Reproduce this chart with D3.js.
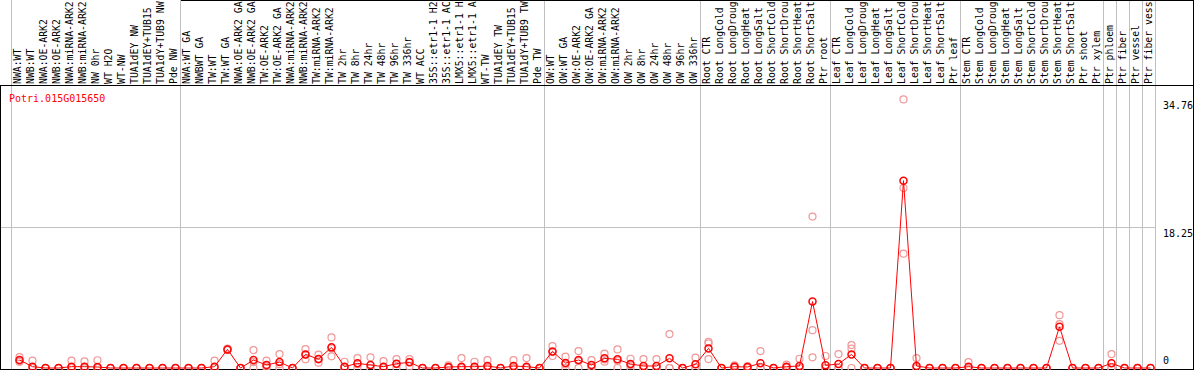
<!DOCTYPE html>
<html>
<head>
<meta charset="utf-8">
<script src="https://cdn.jsdelivr.net/npm/d3@7/dist/d3.min.js"></script>
<style>
html, body { margin: 0; padding: 0; background: #fff; }
svg { display: block; }
text { font-family: "DejaVu Sans Mono", monospace; font-size: 10px; }
</style>
</head>
<body>
<svg id="chart" width="1194" height="370"></svg>
<script>
const geneId = "Potri.015G015650";

// sample labels as far as they show in the header strip
const samples = [
  "NWA:WT","NWB:WT","NWA:OE-ARK2","NWB:OE-ARK2","NWA:miRNA-ARK2","NWB:miRNA-ARK2","NW 0hr","WT H2O","WT-NW",
  "TUA1dEY NW","TUA1dEY+TUB15","TUA1dY+TUB9 NW","Pde NW",
  "NWA:WT GA","NWBWT GA","TW:WT","TW:WT GA","NWA:OE-ARK2 GA","NWB:OE-ARK2 GA","TW:OE-ARK2","TW:OE-ARK2 GA",
  "NWA:miRNA-ARK2","NWB:miRNA-ARK2","TW:miRNA-ARK2","TW:miRNA-ARK2","TW 2hr","TW 8hr","TW 24hr","TW 48hr",
  "TW 96hr","TW 336hr","WT ACC","35S::etr1-1 H2","35S::etr1-1 AC","LMX5::etr1-1 H","LMX5::etr1-1 A","WT-TW",
  "TUA1dEY TW","TUA1dEY+TUB15","TUA1dY+TUB9 TW","Pde TW",
  "OW:WT","OW:WT GA","OW:OE-ARK2","OW:OE-ARK2 GA","OW:miRNA-ARK2","OW:miRNA-ARK2","OW 2hr","OW 8hr","OW 24hr",
  "OW 48hr","OW 96hr","OW 336hr",
  "Root CTR","Root LongCold","Root LongDroug","Root LongHeat","Root LongSalt","Root ShortCold","Root ShortDrou",
  "Root ShortHeat","Root ShortSalt","Ptr root",
  "Leaf CTR","Leaf LongCold","Leaf LongDroug","Leaf LongHeat","Leaf LongSalt","Leaf ShortCold","Leaf ShortDrou",
  "Leaf ShortHeat","Leaf ShortSalt","Ptr leaf",
  "Stem CTR","Stem LongCold","Stem LongDroug","Stem LongHeat","Stem LongSalt","Stem ShortCold","Stem ShortDrou",
  "Stem ShortHeat","Stem ShortSalt","Ptr shoot",
  "Ptr xylem","Ptr phloem","Ptr fiber","Ptr vessel","Ptr fiber vess"
];

// index of the last sample in each group (a grey separator follows it)
const groupEnds = [12, 40, 52, 62, 72, 83, 84, 85, 86, 87];

// mean expression per sample
const means = [
  1.03,0.17,0,0,0.17,0.17,0.13,0,0,0,0,0,0,
  0,0,0.17,2.41,0,1.03,0.39,0.77,0,1.76,1.16,2.67,0.17,0.6,0.39,0.17,0.56,0.73,0,0,0.13,0.17,0.17,0.26,0,0.26,0.17,0,
  2.15,0.64,1.03,0.39,1.25,1.12,0.52,0.26,0.26,1.25,0,0.47,
  2.54,0,0.17,0.13,0.6,0,0.17,0.26,8.6,0.34,
  0.52,1.76,0,0,0,24.25,0.26,0,0,0,
  0.17,0,0,0,0,0,0,5.33,0,0,0,
  0.6,0,0,0
];

// replicate values per sample
const rep1 = [
  1.4,0.95,0,0,0.95,0.85,1.0,0,0,0,0,0,0,
  0,0,0.95,2.5,0,2.32,0.95,1.8,0,2.45,1.72,3.96,0.81,1.29,1.38,0.9,1.16,1.16,0,0,0.34,1.29,0.81,1.03,0,1.03,1.29,0,
  2.84,1.46,2.19,1.03,1.85,2.41,1.2,1.16,1.16,4.39,0,1.33,
  3.4,0,0.34,0.26,2.19,0,0.43,1.2,19.6,1.55,
  1.8,2.97,0,0,0,34.76,1.29,0,0,0,
  0.77,0,0,0,0,0,0,6.84,0,0,0,
  1.8,0,0,0
];
const rep2 = [
  0.9,0,0,0,0,0,0,0,0,0,0,0,0,
  0,0,0,2.4,0,0.77,0.2,0.5,0,1.72,1.1,2.54,0,0.5,0,0,0.5,0.8,0,0,0.05,0,0,0,0,0,0,0,
  2.06,0.46,0.9,0.15,1.1,0.95,0.36,0,0,0,0,0.08,
  3.18,0,0.17,0.13,0,0,0.08,0,4.9,0,
  0,2.5,0,0,0,23.3,0,0,0,0,
  0,0,0,0,0,0,0,5.68,0,0,0,
  0,0,0,0
];
const rep3 = [
  0.8,0,0,0,0,0,0,0,0,0,0,0,0,
  0,0,0,2.3,0,0,0,0,0,1.12,0.69,1.51,0,0,0,0,0,0.2,0,0,0,0,0,0,0,0,0,0,
  1.55,0,0,0,0.82,0,0,0,0,0,0,0,
  1.16,0,0,0,0,0,0,0,1.38,0,
  0,0,0,0,0,14.8,0,0,0,0,
  0,0,0,0,0,0,0,3.52,0,0,0,
  0,0,0,0
];

const yTicks = [0, 18.25, 34.76];
const yMax = 36.5;

const W = 1194, H = 370;
const headerH = 85;
const svg = d3.select("#chart");

const x = d3.scaleBand()
  .domain(d3.range(samples.length))
  .range([13, 13 + samples.length * 13]);
const cx = i => x(i) + x.bandwidth() / 2;
const plotRight = x(samples.length - 1) + 11;

const y = d3.scaleLinear().domain([0, yMax]).range([368, 86]);

// clip for header labels
svg.append("defs").append("clipPath").attr("id", "hdrclip")
  .append("rect").attr("x", 0).attr("y", 0).attr("width", W).attr("height", headerH);

// vertical grey separators
const seps = [-1].concat(groupEnds);
svg.append("g").selectAll("line").data(seps).enter().append("line")
  .attr("x1", d => (d < 0 ? x(0) - 2 : x(d) + 11) + 0.5)
  .attr("x2", d => (d < 0 ? x(0) - 2 : x(d) + 11) + 0.5)
  .attr("y1", 0).attr("y2", 369)
  .attr("stroke", "#c0c0c0").attr("stroke-width", 1);

// horizontal mid grid line
svg.append("line")
  .attr("x1", 1).attr("x2", plotRight)
  .attr("y1", Math.round(y(18.25)) + 0.5).attr("y2", Math.round(y(18.25)) + 0.5)
  .attr("stroke", "#c0c0c0");

// header labels, rotated, reading upward
svg.append("g").attr("clip-path", "url(#hdrclip)")
  .selectAll("text").data(samples).enter().append("text")
  .attr("transform", (d, i) => "translate(" + (cx(i) + 1.5) + "," + (headerH - 1) + ") rotate(-90)")
  .attr("fill", "#000")
  .style("font-size", "9.8px")
  .text(d => d);

// frame lines
const frame = svg.append("g").attr("stroke", "#000").attr("stroke-width", 1);
frame.append("line").attr("x1", 181).attr("x2", W).attr("y1", 0.5).attr("y2", 0.5);
frame.append("line").attr("x1", 0).attr("x2", W).attr("y1", headerH + 0.5).attr("y2", headerH + 0.5);
frame.append("line").attr("x1", 0.5).attr("x2", 0.5).attr("y1", headerH).attr("y2", H);
frame.append("line").attr("x1", W - 0.5).attr("x2", W - 0.5).attr("y1", 0).attr("y2", H);
frame.append("line").attr("x1", 0).attr("x2", W).attr("y1", H - 0.5).attr("y2", H - 0.5);

// gene id
svg.append("text").attr("x", 9).attr("y", 102).attr("fill", "#ff0000").text(geneId);

// y labels
svg.append("g").selectAll("text").data(yTicks).enter().append("text")
  .attr("x", plotRight + 8)
  .attr("y", d => d === 0 ? y(d) - 4 : y(d) + 10)
  .attr("fill", "#000")
  .text(d => d);

// replicate circles
const reps = [rep1, rep2, rep3];
const repPts = [];
reps.forEach(r => r.forEach((v, i) => repPts.push({ i: i, v: v })));
svg.append("g").selectAll("circle").data(repPts).enter().append("circle")
  .attr("cx", d => cx(d.i)).attr("cy", d => y(d.v)).attr("r", 3.5)
  .attr("fill", "none").attr("stroke", "#f09898").attr("stroke-width", 1.2);

// mean line
const line = d3.line().x((d, i) => cx(i)).y(d => y(d));
svg.append("path").datum(means)
  .attr("d", line).attr("fill", "none").attr("stroke", "#ff0000").attr("stroke-width", 1);

// mean circles
svg.append("g").selectAll("circle").data(means).enter().append("circle")
  .attr("cx", (d, i) => cx(i)).attr("cy", d => y(d)).attr("r", 3.5)
  .attr("fill", "none").attr("stroke", "#ff0000").attr("stroke-width", 1.5);
</script>
</body>
</html>
